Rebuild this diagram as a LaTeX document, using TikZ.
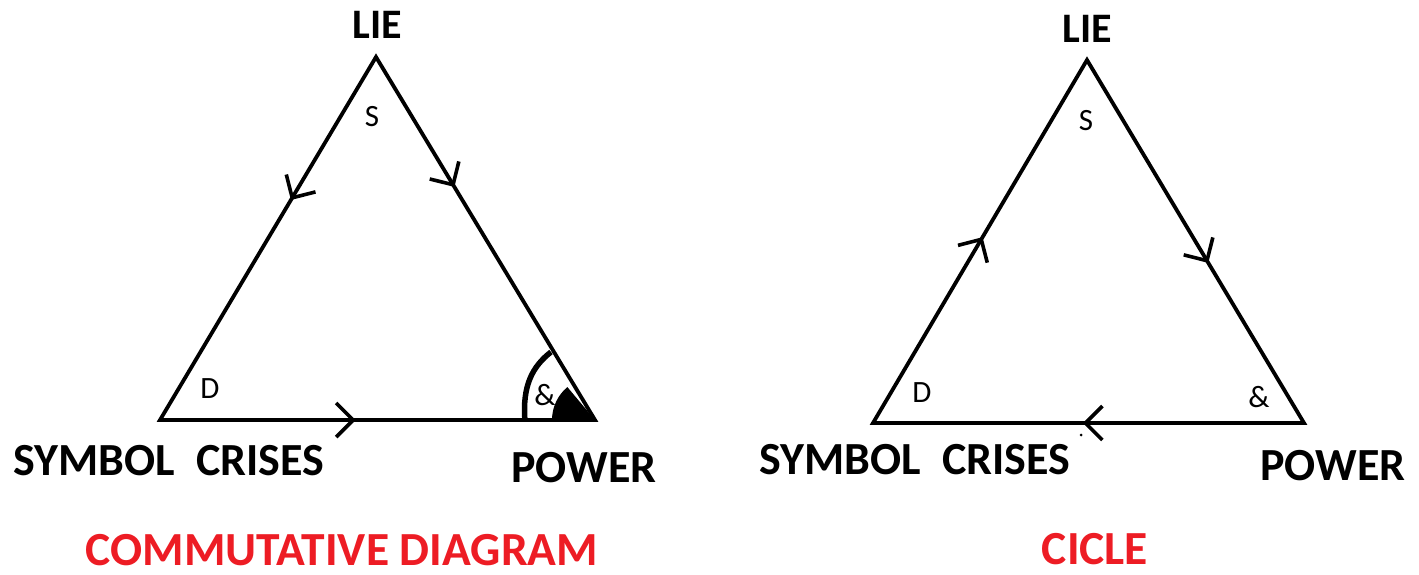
\documentclass[tikz,border=0pt]{standalone}
\usepackage{fontspec}
\setmainfont{Carlito}
\usetikzlibrary{arrows.meta,decorations.markings}
\definecolor{titlered}{RGB}{237,28,36}
\tikzset{
  tri/.style={line width=3.8pt, line join=miter},
  big/.style={font=\fontsize{46}{50}\selectfont\bfseries, anchor=base, inner sep=0pt},
  lie/.style={font=\fontsize{42}{46}\selectfont\bfseries, anchor=base, inner sep=0pt},
  small/.style={font=\fontsize{31}{33}\selectfont, anchor=base, inner sep=0pt},
  title/.style={font=\fontsize{47.5}{50}\selectfont\bfseries, anchor=base, inner sep=0pt, text=titlered},
  tipat/.style={decorate, decoration={markings, mark=at position #1 with {\arrow[line width=3.6pt]{Straight Barb[length=17pt,width=34pt]}}}}
}
\begin{document}
\begin{tikzpicture}[x=1pt,y=-1pt]
\useasboundingbox (0,0) rectangle (1419,575);
% left triangle
\coordinate (A1) at (376,57);
\coordinate (B1) at (160,420);
\coordinate (C1) at (595,420);
\draw[tri] (A1) -- (B1) -- (C1) -- cycle;
\path[tipat=0.394] (A1) -- (B1);
\path[tipat=0.358] (A1) -- (C1);
\path[tipat=0.45] (B1) -- (C1);
\coordinate (arcS) at (525,421);
\coordinate (arcE) at (551,352);
\draw[line width=5.5pt] (arcS) .. controls (522,385) and (533,366) .. (arcE);
\fill (C1) -- ++(180:43) arc[start angle=180, end angle=230, radius=43] -- cycle;
\node[lie] (lie1) at (377,39) {LIE};
\node[small] (s1) at (372,127) {S};
\node[small] (d1) at (210,398) {D};
\node[small] (amp1) at (545,405) {\&};
\node[big] (sym1) at (169,475) {SYMBOL\ \ CRISES};
\node[big] (pow1) at (584,482) {POWER};
\node[title] (t1) at (342,565) {COMMUTATIVE DIAGRAM};
% right triangle
\coordinate (A2) at (1087,60);
\coordinate (B2) at (873,423);
\coordinate (C2) at (1304,423);
\draw[tri] (A2) -- (B2) -- (C2) -- cycle;
\path[tipat=0.512] (B2) -- (A2);
\path[tipat=0.559] (A2) -- (C2);
\path[tipat=0.513] (C2) -- (B2);
\coordinate (dot) at (1081,435);
\fill (dot) circle[radius=1.5];
\node[lie] (lie2) at (1087,43) {LIE};
\node[small] (s2) at (1086,131) {S};
\node[small] (d2) at (922,402) {D};
\node[small] (amp2) at (1259,407) {\&};
\node[big] (sym2) at (915,474) {SYMBOL\ \ CRISES};
\node[big] (pow2) at (1333,480) {POWER};
\node[title] (t2) at (1095,564) {CICLE};
\end{tikzpicture}
\end{document}
